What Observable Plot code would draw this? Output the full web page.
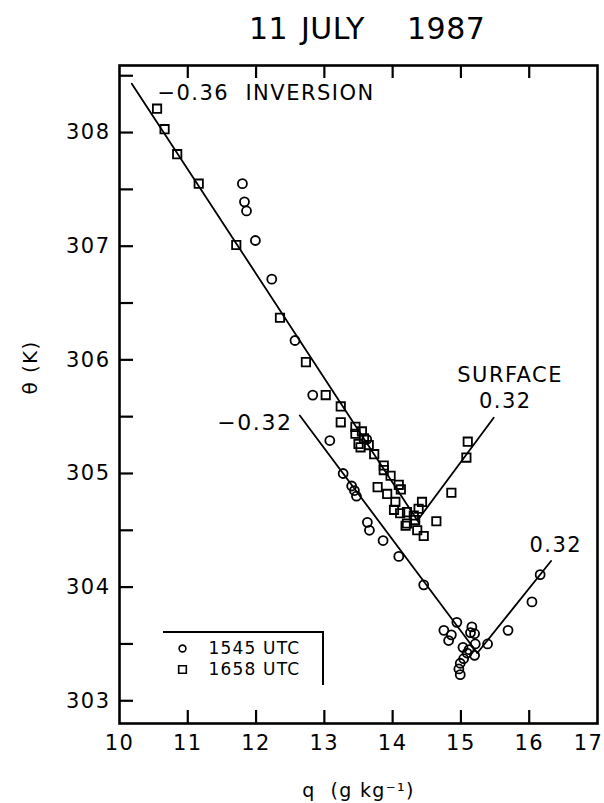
<!DOCTYPE html>
<html>
<head>
<meta charset="utf-8">
<script src="https://cdn.jsdelivr.net/npm/d3@7"></script>
<script src="https://cdn.jsdelivr.net/npm/@observablehq/plot@0.6"></script>
<style>
  body { margin: 0; background: #fff; }
  #wrap { position: relative; width: 604px; height: 803px; font-family: "DejaVu Sans", sans-serif; color: #000; }
  #title { position: absolute; top: 0; left: 0; width: 604px; height: 60px; font-size: 30px; line-height: 30px; }
  #title span { position: absolute; top: 14px; white-space: pre; letter-spacing: 0.5px; }
  #chart { position: absolute; top: 60px; left: 0; }
  #chart svg text { letter-spacing: 0.07em; }
  #legbox { position: absolute; left: 163px; top: 631px; width: 159px; height: 52px; border-top: 2px solid #000; border-right: 2px solid #000; }
</style>
</head>
<body>
<div id="wrap">
  <div id="title"><span style="left:249px">11</span><span style="left:301px">JULY</span><span style="left:407px">1987</span></div>
  <div id="chart"></div>
  <div id="legbox"></div>
</div>
<script>
// ---- axis ticks ----
const xTicks = [10, 11, 12, 13, 14, 15, 16, 17];
const xInnerTicks = [11, 12, 13, 14, 15, 16];
const yMinorTicks = [303, 303.5, 304, 304.5, 305, 305.5, 306, 306.5, 307, 307.5, 308, 308.5];
const yLabelTicks = [303, 304, 305, 306, 307, 308];
const xDomain = [10, 17];
const yDomain = [302.80, 308.59];

// ---- 1545 UTC soundings (circles): q (g/kg), theta (K) ----
const circQ = [11.80, 11.83, 11.86, 11.99, 12.23, 12.57, 12.83, 13.08, 13.275, 13.62, 13.40, 13.44, 13.47, 13.63, 13.66, 13.86, 14.09, 14.455,
  14.75, 14.82, 14.86, 14.94, 15.16, 15.14, 15.20, 15.21, 15.03, 15.09, 15.20, 15.04, 14.99, 14.97, 14.99, 15.12, 15.39, 15.69, 16.04, 16.16];
const circT = [307.55, 307.39, 307.31, 307.05, 306.71, 306.17, 305.69, 305.29, 305.00, 305.30, 304.89, 304.85, 304.80, 304.57, 304.50, 304.41, 304.27, 304.02,
  303.62, 303.53, 303.58, 303.69, 303.65, 303.60, 303.59, 303.50, 303.47, 303.42, 303.40, 303.37, 303.33, 303.28, 303.23, 303.45, 303.50, 303.62, 303.87, 304.11];

// ---- 1658 UTC soundings (squares) ----
const sqQ = [10.55, 10.66, 10.845, 11.16, 11.71, 12.35, 12.73, 13.02, 13.24, 13.24, 13.455, 13.455, 13.55, 13.50, 13.58, 13.53, 13.65, 13.73,
  13.87, 13.87, 13.97, 13.78, 13.92, 14.09, 14.12, 14.04, 14.02, 14.11, 14.21, 14.43, 14.38, 14.31, 14.21, 14.19, 14.33, 14.36, 14.455,
  14.64, 14.86, 15.08, 15.10];
const sqT = [308.21, 308.03, 307.81, 307.55, 307.01, 306.37, 305.98, 305.69, 305.59, 305.45, 305.41, 305.35, 305.37, 305.26, 305.31, 305.23, 305.25, 305.17,
  305.07, 305.03, 304.98, 304.88, 304.82, 304.90, 304.86, 304.75, 304.68, 304.65, 304.66, 304.75, 304.69, 304.63, 304.56, 304.54, 304.59, 304.50, 304.45,
  304.58, 304.83, 305.14, 305.28];

// ---- fitted mixing lines (end points) ----
const inversionLineQ = [10.18, 14.38];
const inversionLineT = [308.43, 304.57];
const surfaceLineQ = [14.38, 15.48];
const surfaceLineT = [304.60, 305.49];
const lowerLineQ = [12.64, 15.24];
const lowerLineT = [305.51, 303.42];
const rightLineQ = [15.24, 16.32];
const rightLineT = [303.42, 304.23];

// ---- annotations ----
const annInversion = {q: 10.556, t: 308.283, label: "−0.36  INVERSION"};
const annSurface = [{q: 15.72, t: 305.806, label: "SURFACE"}, {q: 15.65, t: 305.58, label: "0.32"}];
const annLower = {q: 12.533, t: 305.38, label: "−0.32"};
const annRight = {q: 16.39, t: 304.31, label: "0.32"};
const legendLabels = ["1545 UTC", "1658 UTC"];
const xLabel = "q  (g kg⁻¹)";
const yLabel = "θ (K)";

const pts = (Q, T) => Q.map((q, i) => ({q, t: T[i]}));
const circles = pts(circQ, circT);
const squares = pts(sqQ, sqT);
const lines = [
  pts(inversionLineQ, inversionLineT),
  pts(surfaceLineQ, surfaceLineT),
  pts(lowerLineQ, lowerLineT),
  pts(rightLineQ, rightLineT)
];

const font = "DejaVu Sans";
const W = 604, H = 743, mT = 5, mB = 80, mL = 119, mR = 7;
const frameW = W - mL - mR, frameH = H - mT - mB;
// tick lengths converted from pixels to data units
const tickLenX = 13 * (yDomain[1] - yDomain[0]) / frameH;
const tickLenY = 14 * (xDomain[1] - xDomain[0]) / frameW;
const chart = Plot.plot({
  width: W, height: H,
  marginTop: mT, marginBottom: mB, marginLeft: mL, marginRight: mR,
  x: {domain: xDomain, axis: null},
  y: {domain: yDomain, axis: null},
  style: {fontFamily: font, color: "#000", background: "#fff", overflow: "visible"},
  marks: [
    // inward tick marks
    Plot.ruleX(xInnerTicks, {x: d => d, y1: () => yDomain[0], y2: () => yDomain[0] + tickLenX, stroke: "#000", strokeWidth: 2.2}),
    Plot.ruleX(xInnerTicks, {x: d => d, y1: () => yDomain[1], y2: () => yDomain[1] - tickLenX, stroke: "#000", strokeWidth: 2.2}),
    Plot.ruleY(yMinorTicks, {y: d => d, x1: () => xDomain[0], x2: () => xDomain[0] + tickLenY, stroke: "#000", strokeWidth: 2.2}),
    // tick labels
    Plot.text(xTicks.slice(0, -1), {x: d => d, frameAnchor: "bottom", dy: 12, text: d => String(d), lineAnchor: "top", fontSize: 21}),
    Plot.text(xTicks.slice(-1), {x: d => d, frameAnchor: "bottom", dy: 12, dx: -9, text: d => String(d), lineAnchor: "top", fontSize: 21}),
    Plot.text(yLabelTicks, {y: d => d, frameAnchor: "left", dx: -9, text: d => String(d), textAnchor: "end", lineAnchor: "middle", fontSize: 21}),
    Plot.frame({stroke: "#000", strokeWidth: 2.6}),
    ...lines.map(l => Plot.line(l, {x: "q", y: "t", stroke: "#000", strokeWidth: 1.8})),
    Plot.dot(circles, {x: "q", y: "t", r: 4.5, stroke: "#000", strokeWidth: 1.8, fill: "none"}),
    Plot.dot(squares, {x: "q", y: "t", symbol: "square", r: 4.7, stroke: "#000", strokeWidth: 1.8, fill: "none"}),
    Plot.text([annInversion], {x: "q", y: "t", text: "label", textAnchor: "start", lineAnchor: "bottom", fontSize: 21}),
    Plot.text(annSurface, {x: "q", y: "t", text: "label", textAnchor: "middle", lineAnchor: "bottom", fontSize: 21}),
    Plot.text([annLower], {x: "q", y: "t", text: "label", textAnchor: "end", lineAnchor: "bottom", fontSize: 22}),
    Plot.text([annRight], {x: "q", y: "t", text: "label", textAnchor: "middle", lineAnchor: "bottom", fontSize: 21}),
    // legend
    Plot.dot([legendLabels[0]], {frameAnchor: "bottom-left", dx: 63, dy: -75, r: 3.4, stroke: "#000", strokeWidth: 1.6, fill: "none"}),
    Plot.dot([legendLabels[1]], {frameAnchor: "bottom-left", dx: 63, dy: -54, symbol: "square", r: 4.3, stroke: "#000", strokeWidth: 1.6, fill: "none"}),
    Plot.text([legendLabels[0]], {frameAnchor: "bottom-left", dx: 89, dy: -74.5, text: d => d, textAnchor: "start", lineAnchor: "middle", fontSize: 17}),
    Plot.text([legendLabels[1]], {frameAnchor: "bottom-left", dx: 89, dy: -53.5, text: d => d, textAnchor: "start", lineAnchor: "middle", fontSize: 17}),
    // axis titles
    Plot.text([xLabel], {frameAnchor: "bottom", dy: 67, text: d => d, lineAnchor: "middle", fontSize: 19}),
    Plot.text([yLabel], {frameAnchor: "left", dx: -89, text: d => d, rotate: -90, lineAnchor: "middle", fontSize: 20})
  ]
});
document.getElementById("chart").appendChild(chart);
</script>
</body>
</html>
